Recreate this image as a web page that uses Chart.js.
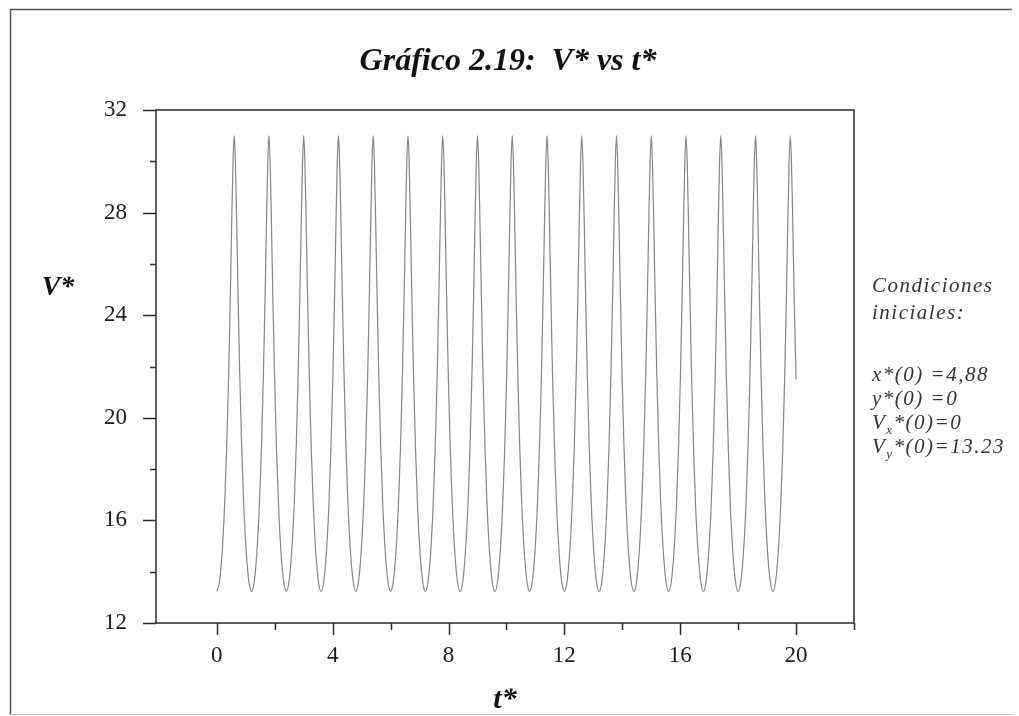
<!DOCTYPE html>
<html>
<head>
<meta charset="utf-8">
<script src="https://cdn.jsdelivr.net/npm/chart.js@4.4.1/dist/chart.umd.min.js"></script>
<style>
  html, body { margin: 0; padding: 0; background: #ffffff; }
  #wrap { position: relative; width: 1019px; height: 716px; }
</style>
</head>
<body>
<div id="wrap"><canvas id="c" width="1019" height="716"></canvas></div>
<script>
// ---- Data ----
const chartTitle = "Gráfico 2.19:  V* vs t*";
const xTitle = "t*";
const yTitle = "V*";
const xTickLabels = [0, 4, 8, 12, 16, 20];
const yTickLabels = [12, 16, 20, 24, 28, 32];

const tStar = [
  0.00, 0.09, 0.18, 0.27, 0.34, 0.41, 0.47, 0.52, 0.56, 0.60, 0.64, 0.68, 0.73, 0.79, 0.86, 0.93, 1.02, 1.11,
  1.20, 1.29, 1.38, 1.47, 1.54, 1.61, 1.67, 1.72, 1.76, 1.80, 1.84, 1.88, 1.93, 1.99, 2.06, 2.13, 2.22, 2.31,
  2.40, 2.49, 2.58, 2.67, 2.74, 2.81, 2.87, 2.92, 2.96, 3.00, 3.04, 3.08, 3.13, 3.19, 3.26, 3.33, 3.42, 3.51,
  3.60, 3.69, 3.78, 3.87, 3.94, 4.01, 4.07, 4.12, 4.16, 4.20, 4.24, 4.28, 4.33, 4.39, 4.46, 4.53, 4.62, 4.71,
  4.80, 4.89, 4.98, 5.07, 5.14, 5.21, 5.27, 5.32, 5.36, 5.40, 5.44, 5.48, 5.53, 5.59, 5.66, 5.73, 5.82, 5.91,
  6.00, 6.09, 6.18, 6.27, 6.34, 6.41, 6.47, 6.52, 6.56, 6.60, 6.64, 6.68, 6.73, 6.79, 6.86, 6.93, 7.02, 7.11,
  7.20, 7.29, 7.38, 7.47, 7.54, 7.61, 7.67, 7.72, 7.76, 7.80, 7.84, 7.88, 7.93, 7.99, 8.06, 8.13, 8.22, 8.31,
  8.40, 8.49, 8.58, 8.67, 8.74, 8.81, 8.87, 8.92, 8.96, 9.00, 9.04, 9.08, 9.13, 9.19, 9.26, 9.33, 9.42, 9.51,
  9.60, 9.69, 9.78, 9.87, 9.94, 10.01, 10.07, 10.12, 10.16, 10.20, 10.24, 10.28, 10.33, 10.39, 10.46, 10.53, 10.62, 10.71,
  10.80, 10.89, 10.98, 11.07, 11.14, 11.21, 11.27, 11.32, 11.36, 11.40, 11.44, 11.48, 11.53, 11.59, 11.66, 11.73, 11.82, 11.91,
  12.00, 12.09, 12.18, 12.27, 12.34, 12.41, 12.47, 12.52, 12.56, 12.60, 12.64, 12.68, 12.73, 12.79, 12.86, 12.93, 13.02, 13.11,
  13.20, 13.29, 13.38, 13.47, 13.54, 13.61, 13.67, 13.72, 13.76, 13.80, 13.84, 13.88, 13.93, 13.99, 14.06, 14.13, 14.22, 14.31,
  14.40, 14.49, 14.58, 14.67, 14.74, 14.81, 14.87, 14.92, 14.96, 15.00, 15.04, 15.08, 15.13, 15.19, 15.26, 15.33, 15.42, 15.51,
  15.60, 15.69, 15.78, 15.87, 15.94, 16.01, 16.07, 16.12, 16.16, 16.20, 16.24, 16.28, 16.33, 16.39, 16.46, 16.53, 16.62, 16.71,
  16.80, 16.89, 16.98, 17.07, 17.14, 17.21, 17.27, 17.32, 17.36, 17.40, 17.44, 17.48, 17.53, 17.59, 17.66, 17.73, 17.82, 17.91,
  18.00, 18.09, 18.18, 18.27, 18.34, 18.41, 18.47, 18.52, 18.56, 18.60, 18.64, 18.68, 18.73, 18.79, 18.86, 18.93, 19.02, 19.11,
  19.20, 19.29, 19.38, 19.47, 19.54, 19.61, 19.67, 19.72, 19.76, 19.80, 19.84, 19.88, 19.93, 20.00
];

const vStar = [
  13.23, 13.6, 14.7, 16.6, 18.8, 21.75, 24.95, 27.95, 30.0, 31.0, 30.0, 27.95, 24.95, 21.75, 18.8, 16.6, 14.7, 13.6,
  13.23, 13.6, 14.7, 16.6, 18.8, 21.75, 24.95, 27.95, 30.0, 31.0, 30.0, 27.95, 24.95, 21.75, 18.8, 16.6, 14.7, 13.6,
  13.23, 13.6, 14.7, 16.6, 18.8, 21.75, 24.95, 27.95, 30.0, 31.0, 30.0, 27.95, 24.95, 21.75, 18.8, 16.6, 14.7, 13.6,
  13.23, 13.6, 14.7, 16.6, 18.8, 21.75, 24.95, 27.95, 30.0, 31.0, 30.0, 27.95, 24.95, 21.75, 18.8, 16.6, 14.7, 13.6,
  13.23, 13.6, 14.7, 16.6, 18.8, 21.75, 24.95, 27.95, 30.0, 31.0, 30.0, 27.95, 24.95, 21.75, 18.8, 16.6, 14.7, 13.6,
  13.23, 13.6, 14.7, 16.6, 18.8, 21.75, 24.95, 27.95, 30.0, 31.0, 30.0, 27.95, 24.95, 21.75, 18.8, 16.6, 14.7, 13.6,
  13.23, 13.6, 14.7, 16.6, 18.8, 21.75, 24.95, 27.95, 30.0, 31.0, 30.0, 27.95, 24.95, 21.75, 18.8, 16.6, 14.7, 13.6,
  13.23, 13.6, 14.7, 16.6, 18.8, 21.75, 24.95, 27.95, 30.0, 31.0, 30.0, 27.95, 24.95, 21.75, 18.8, 16.6, 14.7, 13.6,
  13.23, 13.6, 14.7, 16.6, 18.8, 21.75, 24.95, 27.95, 30.0, 31.0, 30.0, 27.95, 24.95, 21.75, 18.8, 16.6, 14.7, 13.6,
  13.23, 13.6, 14.7, 16.6, 18.8, 21.75, 24.95, 27.95, 30.0, 31.0, 30.0, 27.95, 24.95, 21.75, 18.8, 16.6, 14.7, 13.6,
  13.23, 13.6, 14.7, 16.6, 18.8, 21.75, 24.95, 27.95, 30.0, 31.0, 30.0, 27.95, 24.95, 21.75, 18.8, 16.6, 14.7, 13.6,
  13.23, 13.6, 14.7, 16.6, 18.8, 21.75, 24.95, 27.95, 30.0, 31.0, 30.0, 27.95, 24.95, 21.75, 18.8, 16.6, 14.7, 13.6,
  13.23, 13.6, 14.7, 16.6, 18.8, 21.75, 24.95, 27.95, 30.0, 31.0, 30.0, 27.95, 24.95, 21.75, 18.8, 16.6, 14.7, 13.6,
  13.23, 13.6, 14.7, 16.6, 18.8, 21.75, 24.95, 27.95, 30.0, 31.0, 30.0, 27.95, 24.95, 21.75, 18.8, 16.6, 14.7, 13.6,
  13.23, 13.6, 14.7, 16.6, 18.8, 21.75, 24.95, 27.95, 30.0, 31.0, 30.0, 27.95, 24.95, 21.75, 18.8, 16.6, 14.7, 13.6,
  13.23, 13.6, 14.7, 16.6, 18.8, 21.75, 24.95, 27.95, 30.0, 31.0, 30.0, 27.95, 24.95, 21.75, 18.8, 16.6, 14.7, 13.6,
  13.23, 13.6, 14.7, 16.6, 18.8, 21.75, 24.95, 27.95, 30.0, 31.0, 30.0, 27.95, 24.95, 21.5
];

const xMinorTicks = [2, 6, 10, 14, 18, 22];
const yMinorTicks = [14, 18, 22, 26, 30];

const noteLines = [
  { parts: [["Condiciones", false]] },
  { parts: [["iniciales:", false]] },
  { parts: [["x*(0) =4,88", false]] },
  { parts: [["y*(0) =0", false]] },
  { parts: [["V", false], ["x", true], ["*(0)=0", false]] },
  { parts: [["V", false], ["y", true], ["*(0)=13.23", false]] }
];

// ---- Styling ----
const SERIF = "'Liberation Serif', 'Times New Roman', serif";

const framePlugin = {
  id: 'framePlugin',
  afterDraw(chart) {
    const ctx = chart.ctx;
    const a = chart.chartArea;
    const xs = chart.scales.x, ys = chart.scales.y;
    ctx.save();
    // outer page border
    ctx.strokeStyle = '#555';
    ctx.lineWidth = 1.5;
    ctx.beginPath();
    ctx.moveTo(1012, 9.5); ctx.lineTo(10.5, 9.5); ctx.lineTo(10.5, 714.5);
    ctx.stroke();
    ctx.strokeStyle = '#bbb';
    ctx.lineWidth = 1;
    ctx.beginPath();
    ctx.moveTo(10.5, 714.5); ctx.lineTo(1012, 714.5);
    ctx.stroke();

    // plot frame
    ctx.strokeStyle = '#2a2a2a';
    ctx.lineWidth = 1.5;
    ctx.strokeRect(a.left, a.top, a.right - a.left, a.bottom - a.top);

    // y ticks (outward)
    ctx.beginPath();
    yTickLabels.forEach(v => {
      const y = Math.round(ys.getPixelForValue(v)) + 0.5;
      ctx.moveTo(a.left - 13, y); ctx.lineTo(a.left, y);
    });
    yMinorTicks.forEach(v => {
      const y = Math.round(ys.getPixelForValue(v)) + 0.5;
      ctx.moveTo(a.left - 6, y); ctx.lineTo(a.left, y);
    });
    // x ticks (outward, below)
    xTickLabels.forEach(v => {
      const x = Math.round(xs.getPixelForValue(v)) + 0.5;
      ctx.moveTo(x, a.bottom); ctx.lineTo(x, a.bottom + 12);
    });
    xMinorTicks.forEach(v => {
      const x = Math.round(xs.getPixelForValue(v)) + 0.5;
      ctx.moveTo(x, a.bottom); ctx.lineTo(x, a.bottom + 7);
    });
    ctx.stroke();

    // main title
    ctx.fillStyle = '#111';
    ctx.font = "italic bold 32px " + SERIF;
    ctx.textAlign = 'center';
    ctx.textBaseline = 'alphabetic';
    ctx.fillText(chartTitle, 508, 70);

    // axis titles
    ctx.font = "italic bold 28px " + SERIF;
    ctx.textBaseline = 'middle';
    ctx.fillText(yTitle, 58, 288);
    ctx.font = "italic bold 30px " + SERIF;
    ctx.fillText(xTitle, 505, 700);

    // side note
    ctx.fillStyle = '#333';
    ctx.textAlign = 'left';
    ctx.textBaseline = 'alphabetic';
    try { ctx.letterSpacing = '1.5px'; } catch (e) {}
    const baseY = [292, 319, 381, 405, 429, 453];
    noteLines.forEach((ln, i) => {
      let x = 872;
      ln.parts.forEach(([txt, sub]) => {
        ctx.font = sub ? "italic 13px " + SERIF : "italic 21px " + SERIF;
        ctx.fillText(txt, x, baseY[i] + (sub ? 5 : 0));
        x += ctx.measureText(txt).width;
      });
    });
    ctx.restore();
  }
};

const points = tStar.map((t, i) => ({ x: t, y: vStar[i] }));

new Chart(document.getElementById('c'), {
  type: 'line',
  data: {
    datasets: [{
      data: points,
      borderColor: '#858585',
      borderWidth: 1.2,
      pointRadius: 0,
      fill: false,
      cubicInterpolationMode: 'monotone'
    }]
  },
  options: {
    responsive: false,
    animation: false,
    devicePixelRatio: 1,
    layout: { padding: { left: 0, right: 165, top: 110, bottom: 0 } },
    plugins: {
      legend: { display: false },
      tooltip: { enabled: false },
      title: { display: false }
    },
    scales: {
      x: {
        type: 'linear',
        min: -2.1,
        max: 22,
        afterBuildTicks: s => { s.ticks = xTickLabels.map(v => ({ value: v })); },
        afterFit: s => { s.height = 93; },
        grid: { display: false },
        border: { display: false },
        ticks: {
          color: '#1a1a1a',
          font: { family: SERIF, size: 23 },
          padding: 11,
          maxRotation: 0,
          autoSkip: false
        }
      },
      y: {
        type: 'linear',
        min: 12,
        max: 32,
        afterBuildTicks: s => { s.ticks = yTickLabels.map(v => ({ value: v })); },
        afterFit: s => { s.width = 156; },
        grid: { display: false },
        border: { display: false },
        ticks: {
          color: '#1a1a1a',
          font: { family: SERIF, size: 23 },
          padding: 21,
          autoSkip: false
        }
      }
    }
  },
  plugins: [framePlugin]
});
</script>
</body>
</html>
